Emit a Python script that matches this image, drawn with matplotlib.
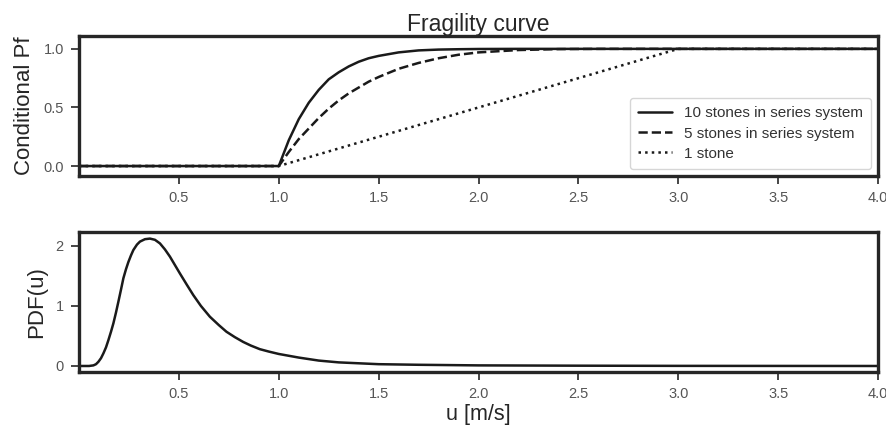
import matplotlib
matplotlib.use("Agg")
import matplotlib.pyplot as plt
import seaborn as sns

sns.set_style("ticks")
plt.rcParams['font.family'] = ['Liberation Sans', 'DejaVu Sans']

# Fragility curves
u_10 = [0.0, 1.0, 1.05, 1.1, 1.15, 1.2, 1.25, 1.3, 1.35, 1.4, 1.45, 1.5, 1.6, 1.7, 1.8, 1.9, 2.0, 2.2, 4.0]
pf_10 = [0.0, 0.0, 0.22, 0.40, 0.54, 0.65, 0.74, 0.80, 0.85, 0.89, 0.92, 0.94, 0.97, 0.987, 0.994, 0.997, 0.999, 1.0, 1.0]

u_5 = [0.0, 1.0, 1.05, 1.1, 1.15, 1.2, 1.25, 1.3, 1.35, 1.4, 1.45, 1.5, 1.6, 1.7, 1.8, 1.9, 2.0, 2.1, 2.2, 2.4, 2.6, 4.0]
pf_5 = [0.0, 0.0, 0.12, 0.23, 0.32, 0.41, 0.49, 0.56, 0.62, 0.67, 0.72, 0.76, 0.83, 0.88, 0.92, 0.95, 0.97, 0.98, 0.99, 0.998, 1.0, 1.0]

u_1 = [0.0, 1.0, 3.0, 4.0]
pf_1 = [0.0, 0.0, 1.0, 1.0]

# PDF of u
u_pdf = [0.0, 0.05, 0.072, 0.085, 0.097, 0.11, 0.122, 0.135, 0.147, 0.16, 0.172, 0.185, 0.197, 0.21,
         0.222, 0.235, 0.247, 0.26, 0.272, 0.29, 0.305, 0.33, 0.355, 0.38, 0.405, 0.43, 0.455, 0.48,
         0.505, 0.54, 0.572, 0.61, 0.655, 0.70, 0.738, 0.78, 0.822, 0.86, 0.905, 0.95, 1.0, 1.1,
         1.2, 1.3, 1.4, 1.5, 1.7, 2.0, 2.5, 3.0, 4.0]
pdf = [0.0, 0.0, 0.01, 0.03, 0.07, 0.13, 0.21, 0.31, 0.43, 0.57, 0.71, 0.89, 1.07, 1.27,
       1.46, 1.61, 1.73, 1.84, 1.93, 2.02, 2.07, 2.11, 2.12, 2.10, 2.04, 1.94, 1.82, 1.68,
       1.54, 1.35, 1.18, 1.00, 0.82, 0.68, 0.57, 0.48, 0.40, 0.34, 0.28, 0.24, 0.20, 0.14,
       0.09, 0.06, 0.045, 0.03, 0.02, 0.01, 0.005, 0.002, 0.0]

xticks = [0.5, 1.0, 1.5, 2.0, 2.5, 3.0, 3.5, 4.0]

fig = plt.figure(figsize=(8.87, 4.32), dpi=100)
ax1 = fig.add_axes([0.0891, 0.5926, 0.9008, 0.3241])
ax2 = fig.add_axes([0.0891, 0.1389, 0.9008, 0.3241])

lw = 1.8
ax1.plot(u_10, pf_10, color='#1a1a1a', lw=lw, ls='-', label='10 stones in series system')
ax1.plot(u_5, pf_5, color='#1a1a1a', lw=lw, ls='--', label='5 stones in series system')
ax1.plot(u_1, pf_1, color='#1a1a1a', lw=lw, ls=':', label='1 stone')
ax1.set_xlim(0, 4)
ax1.set_ylim(-0.085, 1.11)
ax1.set_xticks(xticks)
ax1.set_yticks([0.0, 0.5, 1.0])
ax1.set_ylabel('Conditional Pf', fontsize=16, color='#262626', labelpad=6)
ax1.set_title('Fragility curve', fontsize=16.5, pad=3, color='#262626')
leg = ax1.legend(loc='lower right', fontsize=11, frameon=True, handlelength=2.2,
                 borderpad=0.55, labelspacing=0.4, borderaxespad=0.45)
leg.get_frame().set_edgecolor('#cccccc')
for t in leg.get_texts():
    t.set_color('#333333')

ax2.plot(u_pdf, pdf, color='#1a1a1a', lw=lw)
ax2.set_xlim(0, 4)
ax2.set_ylim(-0.1, 2.23)
ax2.set_xticks(xticks)
ax2.set_yticks([0, 1, 2])
ax2.set_ylabel('PDF(u)', fontsize=16, color='#262626', labelpad=6)
ax2.set_xlabel('u [m/s]', fontsize=15.5, color='#262626', labelpad=2)

for ax in (ax1, ax2):
    for s in ax.spines.values():
        s.set_linewidth(2.4)
        s.set_color('#262626')
    ax.tick_params(labelsize=10.5, labelcolor='#555555', length=6, width=1.2,
                   color='#262626', pad=5)

fig.savefig('out.png', dpi=100)
